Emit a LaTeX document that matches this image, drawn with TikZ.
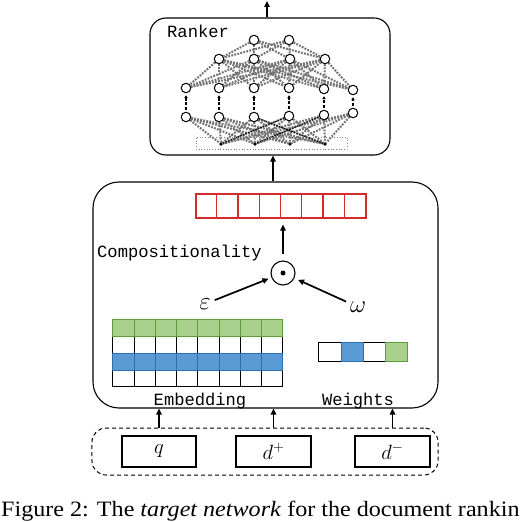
\documentclass[tikz,border=0pt]{standalone}
\usepackage{fontspec}
\setmainfont{Liberation Serif}
\setmonofont{Liberation Mono}
\usetikzlibrary{arrows.meta,calc}
\pgfdeclarelayer{bg}
\pgfsetlayers{bg,main}
\definecolor{myred}{HTML}{D42A2A}
\definecolor{gfill}{HTML}{A9D18E}
\definecolor{gdraw}{HTML}{5E9E3A}
\definecolor{bfill}{HTML}{5B9BD5}
\definecolor{bdraw}{HTML}{2C6FAF}
\definecolor{edgegray}{HTML}{737373}
\tikzset{
  box/.style={draw=black, line width=1.1bp, inner sep=0},
  arr/.style={line width=1.7bp, -{Triangle[length=6bp,width=5.5bp]}},
  neuron/.style={circle, draw=black, fill=white, line width=1bp, minimum size=9.5bp, inner sep=0},
  gedge/.style={draw=edgegray, line width=2.1bp, dash pattern=on 1.8bp off 1.3bp},
  bedge/.style={draw=black, line width=1.1bp, dash pattern=on 1.5bp off 1.2bp},
  vdash/.style={line width=2bp, dash pattern=on 3bp off 1.5bp, -{Triangle[length=3bp,width=3.5bp]}, shorten <=2bp, shorten >=2bp},
  tt/.style={font=\fontsize{17.2}{20}\ttfamily, inner sep=0},
  cellline/.style={line width=1bp}
}
\begin{document}
\begin{tikzpicture}[x=1bp,y=-1bp]
\useasboundingbox (0,0) rectangle (524,522);

% ---------- Ranker ----------
\node[box, rounded corners=16bp, minimum width=240bp, minimum height=137bp] (ranker) at (270,86.5) {};
\node[tt, anchor=base west] (rlabel) at (167,38) {Ranker};
\coordinate (topend) at (267,1);
\draw[arr] (ranker.north -| topend) -- (topend);

\foreach \x [count=\i] in {254,289} \node[neuron] (a\i) at (\x,40) {};
\foreach \x [count=\i] in {219,254,290,325} \node[neuron] (b\i) at (\x,59) {};
\foreach \x/\y [count=\i] in {186/88,219/88,254/88,289/88,324/89,353/90} \node[neuron] (c\i) at (\x,\y) {};
\foreach \x/\y [count=\i] in {186/117,219/117,254/117,289/116,324/115,353/113} \node[neuron] (d\i) at (\x,\y) {};
\node[draw=gray, dotted, line width=0.7bp, minimum width=151bp, minimum height=12bp, inner sep=0] (inbar) at (271.5,143) {};
\foreach \x [count=\i] in {221,255,290,325} \node[circle, fill=black, minimum size=3.8bp, inner sep=0] (e\i) at (\x,144) {};

\begin{pgfonlayer}{bg}
\foreach \i in {1,2} \foreach \j in {1,...,4} \draw[gedge] (a\i) -- (b\j);
\foreach \i in {1,...,4} \foreach \j in {1,...,6} \draw[gedge] (b\i) -- (c\j);
\foreach \i in {1,...,6} \foreach \j in {1,...,4} \draw[gedge] (d\i) -- (e\j);
\draw[bedge] (e2) -- (d5);
\draw[bedge] (e4) -- (d3);
\draw[bedge] (e1) -- (d4);
\end{pgfonlayer}
\foreach \i in {1,...,6} \draw[vdash] (d\i) -- (c\i);

% ---------- Middle block ----------
\node[box, rounded corners=26bp, minimum width=345bp, minimum height=226bp] (mid) at (265.5,295) {};
\coordinate (m1) at ($(mid.north)+(7.5,0)$);
\draw[arr] (m1) -- (m1 |- ranker.south);

\node[draw=myred, line width=1.2bp, minimum width=170bp, minimum height=24bp, inner sep=0] (red) at (281,206) {};
\foreach \k in {1,...,7} \draw[myred, line width=1.2bp] ($(red.north west)+(\k*21.25,0)$) -- ($(red.south west)+(\k*21.25,0)$);

\node[circle, draw, line width=1.1bp, minimum size=24bp, inner sep=0] (dot) at (283,273) {};
\fill (dot.center) circle (2.5bp);
\draw[arr, shorten <=6bp, shorten >=6bp] (dot) -- (dot |- red.south);

\node[tt, anchor=base west] (comp) at (97,257) {Compositionality};

\node[inner sep=1bp] (eps) at (205,304) {\fontsize{26}{30}\selectfont$\varepsilon$};
\node[inner sep=1bp] (omg) at (358,307) {\fontsize{26}{30}\selectfont$\omega$};
\draw[arr, shorten <=3bp, shorten >=3bp] (eps) -- (dot);
\draw[arr, shorten <=3bp, shorten >=4bp] (omg) -- (dot);

% Embedding matrix
\node[inner sep=0, minimum width=170bp, minimum height=67bp] (emb) at (198,353.5) {};
\foreach \r in {1,3} \foreach \c in {0,...,7}
  \draw[cellline] ($(emb.north west)+(\c*21.25,\r*16.75)$) rectangle +(21.25,16.75);
\foreach \c in {0,...,7}
  \draw[cellline, fill=gfill, draw=gdraw] ($(emb.north west)+(\c*21.25,0)$) rectangle +(21.25,16.75);
\foreach \c in {0,...,7}
  \draw[cellline, fill=bfill, draw=bdraw] ($(emb.north west)+(\c*21.25,2*16.75)$) rectangle +(21.25,16.75);

% Weights vector
\node[inner sep=0, minimum width=89bp, minimum height=19bp] (wts) at (363.5,352.5) {};
\foreach \c in {0,2}
  \draw[cellline] ($(wts.north west)+(\c*22.25,0)$) rectangle +(22.25,19);
\draw[cellline, fill=bfill, draw=bdraw] ($(wts.north west)+(22.25,0)$) rectangle +(22.25,19);
\draw[cellline, fill=gfill, draw=gdraw] ($(wts.north west)+(3*22.25,0)$) rectangle +(22.25,19);

\node[tt, anchor=base] (embl) at (200,405) {Embedding};
\node[tt, anchor=base] (wl) at (358,405) {Weights};

% ---------- Inputs ----------
\node[draw, line width=1bp, dash pattern=on 4bp off 3bp, rounded corners=14bp, minimum width=346bp, minimum height=47bp, inner sep=0] (inbox) at (265,451.5) {};
\node[box, minimum width=74bp, minimum height=31bp] (q) at (159,451.5) {\fontsize{20}{24}\selectfont$q$};
\node[box, minimum width=75bp, minimum height=31bp] (dp) at (273.5,451.5) {\fontsize{20}{24}\selectfont$d^{+}$};
\node[box, minimum width=75bp, minimum height=31bp] (dm) at (392.5,451.5) {\fontsize{20}{24}\selectfont$d^{-}$};
\foreach \n in {q,dp,dm} \draw[arr] (\n |- inbox.north) -- (\n |- mid.south);

% ---------- Caption ----------
\node[anchor=base west, inner sep=0] (cap) at (1,516.5) {\scalebox{1.1}[1]{\fontsize{22}{26}\selectfont Figure 2: The \textit{target network} for the document rankin}};
\end{tikzpicture}
\end{document}
